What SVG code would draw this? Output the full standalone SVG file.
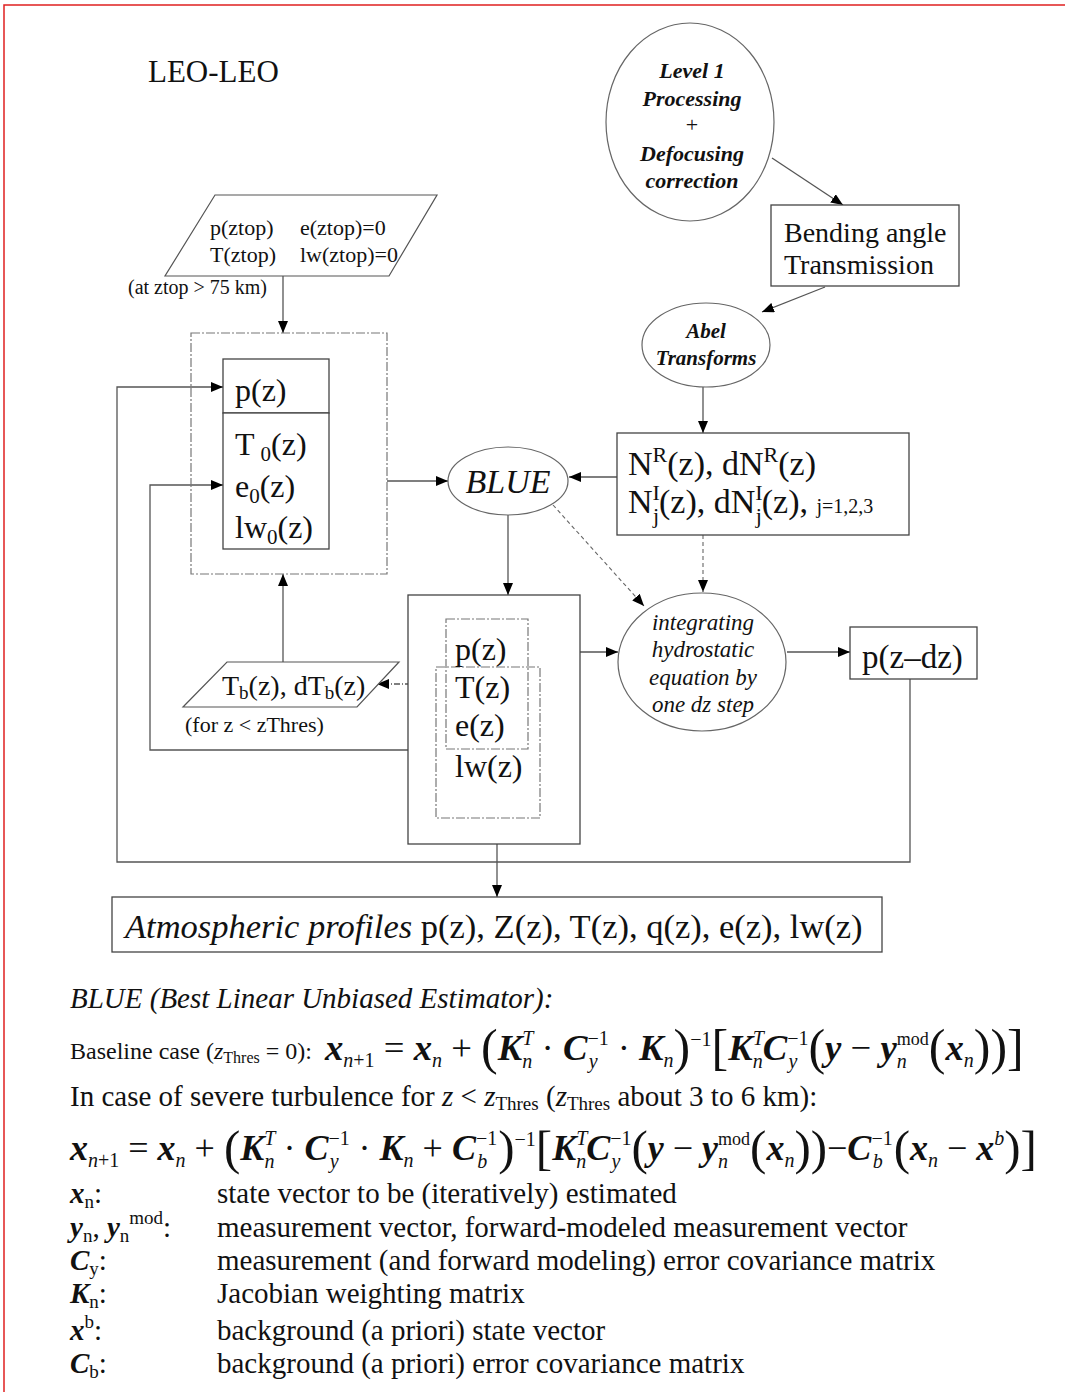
<svg xmlns="http://www.w3.org/2000/svg" width="1065" height="1392" viewBox="0 0 1065 1392">
<style>
.tx{font-family:"Liberation Serif","Times New Roman",serif;fill:#111}
.bi{font-weight:bold;font-style:italic}
.it{font-style:italic}
.m{font-weight:bold;font-style:italic}
.sb{font-size:20px;font-style:italic}
.sp{font-size:20px}
.ln{stroke:#555;stroke-width:1.3;fill:none}
.box{stroke:#444;stroke-width:1.3;fill:#fff}
.dd{stroke:#777;stroke-width:1.2;fill:none;stroke-dasharray:9 2 2 2}
.dsh{stroke:#666;stroke-width:1.1;fill:none;stroke-dasharray:4 3}
</style>
<defs>
<marker id="ah" markerUnits="userSpaceOnUse" markerWidth="13" markerHeight="10" refX="12" refY="5" orient="auto"><path d="M0,0 L12,5 L0,10 z" fill="#000"/></marker>
</defs>
<rect x="0" y="0" width="1065" height="1392" fill="#fff"/>
<rect x="4" y="5" width="1080" height="1410" fill="none" stroke="#e02020" stroke-width="1.5"/>
<text class="tx" x="148" y="82" font-size="31">LEO-LEO</text>

<g id="connectors">
<line class="ln" x1="772" y1="158" x2="843" y2="205" marker-end="url(#ah)"/>
<line class="ln" x1="825" y1="287" x2="762" y2="312" marker-end="url(#ah)"/>
<line class="ln" x1="703" y1="387" x2="703" y2="433" marker-end="url(#ah)"/>
<line class="ln" x1="617" y1="477" x2="569" y2="477" marker-end="url(#ah)"/>
<line class="ln" x1="387" y1="481" x2="448" y2="481" marker-end="url(#ah)"/>
<line class="ln" x1="283" y1="276" x2="283" y2="333" marker-end="url(#ah)"/>
<line class="ln" x1="508" y1="515" x2="508" y2="595" marker-end="url(#ah)"/>
<line class="dsh" x1="553" y1="505" x2="644" y2="606" marker-end="url(#ah)"/>
<line class="dsh" x1="703" y1="535" x2="703" y2="592" marker-end="url(#ah)"/>
<line class="ln" x1="528" y1="652" x2="618" y2="652" marker-end="url(#ah)"/>
<line class="ln" x1="787" y1="652" x2="850" y2="652" marker-end="url(#ah)"/>
<line class="ln" x1="455" y1="684" x2="377" y2="684" stroke-dasharray="6 2 1 2" marker-end="url(#ah)"/>
<line class="ln" x1="283" y1="662" x2="283" y2="574" marker-end="url(#ah)"/>
<polyline class="ln" points="910,679 910,862 117,862 117,387 223,387" marker-end="url(#ah)"/>
<polyline class="ln" points="436,750 150,750 150,485 223,485" marker-end="url(#ah)"/>
<line class="ln" x1="497" y1="844" x2="497" y2="897" marker-end="url(#ah)"/>
</g>

<g id="node-level1">
<ellipse cx="690" cy="122" rx="84" ry="99" fill="#fff" stroke="#666" stroke-width="1.2"/>
<text class="tx bi" font-size="22" text-anchor="middle"><tspan x="692" y="78">Level 1</tspan><tspan x="692" y="106">Processing</tspan><tspan x="692" y="132" font-weight="normal" font-style="normal">+</tspan><tspan x="692" y="161">Defocusing</tspan><tspan x="692" y="188">correction</tspan></text>
</g>

<g id="node-bending">
<rect class="box" x="771" y="205" width="188" height="81"/>
<text class="tx" font-size="28"><tspan x="784" y="242">Bending angle</tspan><tspan x="784" y="274">Transmission</tspan></text>
</g>

<g id="node-abel">
<ellipse cx="706" cy="345" rx="64" ry="42" fill="#fff" stroke="#666" stroke-width="1.2"/>
<text class="tx bi" font-size="21" text-anchor="middle"><tspan x="706" y="338">Abel</tspan><tspan x="706" y="365">Transforms</tspan></text>
</g>

<g id="node-refractivity">
<rect class="box" x="617" y="433" width="292" height="102"/>
<text class="tx" x="628" y="475" font-size="34">N<tspan font-size="22" dy="-13">R</tspan><tspan dy="13">(z), dN</tspan><tspan font-size="22" dy="-13">R</tspan><tspan dy="13">(z)</tspan></text>
<text class="tx" x="628" y="513" font-size="34">N<tspan font-size="22" dy="-13">I</tspan><tspan font-size="22" dx="-7" dy="23">j</tspan><tspan dy="-10">(z), dN</tspan><tspan font-size="22" dy="-13">I</tspan><tspan font-size="22" dx="-7" dy="23">j</tspan><tspan dy="-10">(z), </tspan><tspan font-size="20">j=1,2,3</tspan></text>
</g>

<g id="node-top-input">
<polygon points="215,195 437,195 389,276 165,276" fill="#fff" stroke="#555" stroke-width="1.2"/>
<text class="tx" font-size="22"><tspan x="210" y="235">p(ztop)</tspan><tspan x="300" y="235">e(ztop)=0</tspan><tspan x="210" y="262">T(ztop)</tspan><tspan x="300" y="262">lw(ztop)=0</tspan></text>
<text class="tx" x="128" y="294" font-size="20">(at ztop &gt; 75 km)</text>
</g>

<g id="node-initial">
<rect class="dd" x="191" y="333" width="196" height="241"/>
<rect class="box" x="223" y="359" width="106" height="54"/>
<rect class="box" x="223" y="413" width="106" height="136"/>
<text class="tx" x="235" y="401" font-size="32">p(z)</text>
<text class="tx" x="235" y="455" font-size="32">T<tspan font-size="21" dx="6" dy="6">0</tspan><tspan dy="-6">(z)</tspan></text>
<text class="tx" x="235" y="497" font-size="32">e<tspan font-size="21" dy="6">0</tspan><tspan dy="-6">(z)</tspan></text>
<text class="tx" x="235" y="538" font-size="32">lw<tspan font-size="21" dy="6">0</tspan><tspan dy="-6">(z)</tspan></text>
</g>

<g id="node-blue">
<ellipse cx="508" cy="481" rx="60" ry="34" fill="#fff" stroke="#666" stroke-width="1.2"/>
<text class="tx it" x="508" y="493" font-size="34" text-anchor="middle">BLUE</text>
</g>

<g id="node-state">
<rect class="box" x="408" y="595" width="172" height="249" fill="none"/>
<rect class="dd" x="446" y="619" width="82" height="130"/>
<rect class="dd" x="436" y="667" width="104" height="151"/>
<text class="tx" font-size="32"><tspan x="455" y="660">p(z)</tspan><tspan x="455" y="698">T(z)</tspan><tspan x="455" y="736">e(z)</tspan><tspan x="455" y="777">lw(z)</tspan></text>
</g>

<g id="node-background">
<polygon points="227,662 399,662 357,707 183,707" fill="#fff" stroke="#555" stroke-width="1.2"/>
<text class="tx" x="222" y="695" font-size="28">T<tspan font-size="19" dy="4">b</tspan><tspan dy="-4">(z), dT</tspan><tspan font-size="19" dy="4">b</tspan><tspan dy="-4">(z)</tspan></text>
<text class="tx" x="185" y="732" font-size="22">(for z &lt; zThres)</text>
</g>

<g id="node-integrate">
<ellipse cx="702" cy="662" rx="84" ry="69" fill="#fff" stroke="#666" stroke-width="1.2"/>
<text class="tx it" font-size="23" text-anchor="middle"><tspan x="703" y="630">integrating</tspan><tspan x="703" y="657">hydrostatic</tspan><tspan x="703" y="685">equation by</tspan><tspan x="703" y="712">one dz step</tspan></text>
</g>

<g id="node-pdz">
<rect class="box" x="850" y="627" width="127" height="52"/>
<text class="tx" x="862" y="668" font-size="33">p(z–dz)</text>
</g>

<g id="node-output">
<rect class="box" x="112" y="897" width="770" height="55"/>
<text class="tx" x="125" y="938" font-size="34.5"><tspan font-style="italic">Atmospheric profiles</tspan> p(z), Z(z), T(z), q(z), e(z), lw(z)</text>
</g>

<g id="formulas">
<text class="tx it" x="70" y="1008" font-size="29">BLUE (Best Linear Unbiased Estimator):</text>
<text class="tx" x="70" y="1059" font-size="24">Baseline case (<tspan font-style="italic">z</tspan><tspan font-size="16" dy="4">Thres</tspan><tspan dy="-4"> = 0):</tspan></text>
<text class="tx" x="325" y="1060" font-size="36.7"><tspan class="m">x</tspan><tspan class="sb" dy="7">n</tspan><tspan class="sp" >+1</tspan><tspan dy="-7"> = </tspan><tspan class="m">x</tspan><tspan class="sb" dy="7">n</tspan><tspan dy="-7"> + </tspan><tspan font-size="50" dy="4">(</tspan><tspan class="m" dy="-4">K</tspan><tspan class="sp" font-style="italic" dy="-15">T</tspan><tspan class="sb" dx="-11" dy="23">n</tspan><tspan dy="-8"> · </tspan><tspan class="m">C</tspan><tspan class="sp" dy="-15">−1</tspan><tspan class="sb" dx="-20" dy="23">y</tspan><tspan dx="11" dy="-8"> · </tspan><tspan class="m">K</tspan><tspan class="sb" dy="7">n</tspan><tspan font-size="50" dy="-3">)</tspan><tspan class="sp" dy="-18">−1</tspan><tspan font-size="50" dy="18">[</tspan><tspan class="m" dy="-4">K</tspan><tspan class="sp" font-style="italic" dy="-15">T</tspan><tspan class="sb" dx="-11" dy="23">n</tspan><tspan class="m" dy="-8">C</tspan><tspan class="sp" dy="-15">−1</tspan><tspan class="sb" dx="-20" dy="23">y</tspan><tspan font-size="50" dx="11" dy="-4">(</tspan><tspan class="m" dy="-4">y</tspan><tspan> − </tspan><tspan class="m">y</tspan><tspan font-size="18" dy="-15">mod</tspan><tspan class="sb" dx="-32" dy="23">n</tspan><tspan font-size="50" dx="22" dy="-4">(</tspan><tspan class="m" dy="-4">x</tspan><tspan class="sb" dy="7">n</tspan><tspan font-size="50" dy="-3">))]</tspan></text>
<text class="tx" x="70" y="1106" font-size="29">In case of severe turbulence for <tspan font-style="italic">z</tspan> &lt; <tspan font-style="italic">z</tspan><tspan font-size="19" dy="4">Thres</tspan><tspan dy="-4"> (</tspan><tspan font-style="italic">z</tspan><tspan font-size="19" dy="4">Thres</tspan><tspan dy="-4"> about 3 to 6 km):</tspan></text>
<text class="tx" x="70" y="1160" font-size="36"><tspan class="m">x</tspan><tspan class="sb" dy="7">n</tspan><tspan class="sp">+1</tspan><tspan dy="-7"> = </tspan><tspan class="m">x</tspan><tspan class="sb" dy="7">n</tspan><tspan dy="-7"> + </tspan><tspan font-size="49" dy="4">(</tspan><tspan class="m" dy="-4">K</tspan><tspan class="sp" font-style="italic" dy="-15">T</tspan><tspan class="sb" dx="-11" dy="23">n</tspan><tspan dy="-8"> · </tspan><tspan class="m">C</tspan><tspan class="sp" dy="-15">−1</tspan><tspan class="sb" dx="-20" dy="23">y</tspan><tspan dx="11" dy="-8"> · </tspan><tspan class="m">K</tspan><tspan class="sb" dy="7">n</tspan><tspan dy="-7"> + </tspan><tspan class="m">C</tspan><tspan class="sp" dy="-15">−1</tspan><tspan class="sb" dx="-20" dy="23">b</tspan><tspan font-size="49" dx="11" dy="-4">)</tspan><tspan class="sp" dy="-18">−1</tspan><tspan font-size="49" dy="18">[</tspan><tspan class="m" dy="-4">K</tspan><tspan class="sp" font-style="italic" dy="-15">T</tspan><tspan class="sb" dx="-11" dy="23">n</tspan><tspan class="m" dy="-8">C</tspan><tspan class="sp" dy="-15">−1</tspan><tspan class="sb" dx="-20" dy="23">y</tspan><tspan font-size="49" dx="11" dy="-4">(</tspan><tspan class="m" dy="-4">y</tspan><tspan> − </tspan><tspan class="m">y</tspan><tspan font-size="18" dy="-15">mod</tspan><tspan class="sb" dx="-32" dy="23">n</tspan><tspan font-size="49" dx="22" dy="-4">(</tspan><tspan class="m" dy="-4">x</tspan><tspan class="sb" dy="7">n</tspan><tspan font-size="49" dy="-3">))</tspan><tspan dy="-4">−</tspan><tspan class="m">C</tspan><tspan class="sp" dy="-15">−1</tspan><tspan class="sb" dx="-20" dy="23">b</tspan><tspan font-size="49" dx="11" dy="-4">(</tspan><tspan class="m" dy="-4">x</tspan><tspan class="sb" dy="7">n</tspan><tspan dy="-7"> − </tspan><tspan class="m">x</tspan><tspan class="sb" dy="-15">b</tspan><tspan font-size="49" dy="19">)]</tspan></text>
<text class="tx" x="70" y="1203" font-size="29"><tspan class="m">x</tspan><tspan font-size="19" dy="5">n</tspan><tspan dy="-5">:</tspan></text>
<text class="tx" x="217" y="1203" font-size="29">state vector to be (iteratively) estimated</text>
<text class="tx" x="70" y="1237" font-size="29"><tspan class="m">y</tspan><tspan font-size="19" dy="5">n</tspan><tspan dy="-5">, </tspan><tspan class="m">y</tspan><tspan font-size="19" dy="5">n</tspan><tspan font-size="19" dy="-18">mod</tspan><tspan dy="13">:</tspan></text>
<text class="tx" x="217" y="1237" font-size="29">measurement vector, forward-modeled measurement vector</text>
<text class="tx" x="70" y="1270" font-size="29"><tspan class="m">C</tspan><tspan font-size="19" dy="5">y</tspan><tspan dy="-5">:</tspan></text>
<text class="tx" x="217" y="1270" font-size="29">measurement (and forward modeling) error covariance matrix</text>
<text class="tx" x="70" y="1303" font-size="29"><tspan class="m">K</tspan><tspan font-size="19" dy="5">n</tspan><tspan dy="-5">:</tspan></text>
<text class="tx" x="217" y="1303" font-size="29">Jacobian weighting matrix</text>
<text class="tx" x="70" y="1340" font-size="29"><tspan class="m">x</tspan><tspan font-size="19" dy="-12">b</tspan><tspan dy="12">:</tspan></text>
<text class="tx" x="217" y="1340" font-size="29">background (a priori) state vector</text>
<text class="tx" x="70" y="1373" font-size="29"><tspan class="m">C</tspan><tspan font-size="19" dy="5">b</tspan><tspan dy="-5">:</tspan></text>
<text class="tx" x="217" y="1373" font-size="29">background (a priori) error covariance matrix</text>
</g>
</svg>
